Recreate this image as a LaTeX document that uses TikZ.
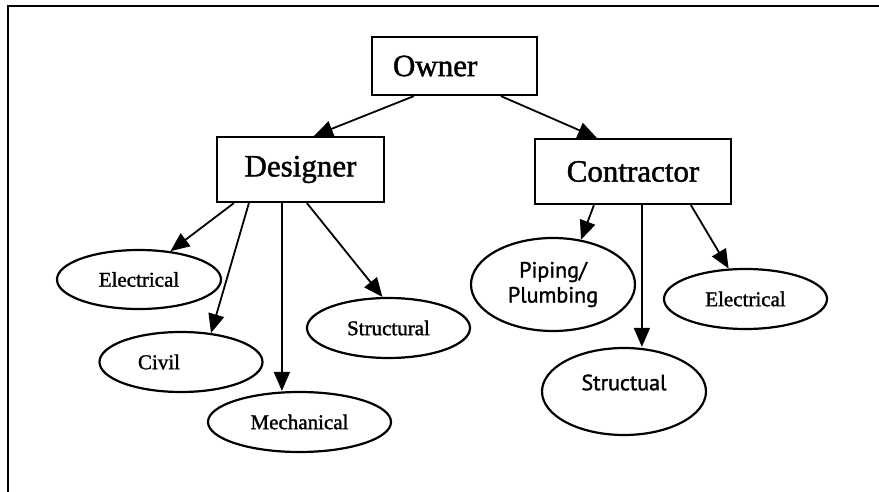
\documentclass[tikz,border=0pt]{standalone}
\usepackage{fontspec}
\setmainfont{Liberation Serif}
\newfontfamily\heavyserif{Liberation Serif}[FakeBold=1.4]
\newfontfamily\labelsans{PT Sans}[FakeBold=1.4]
\usetikzlibrary{arrows.meta,shapes.geometric,calc}

\begin{document}
\begin{tikzpicture}[x=1pt,y=-1pt,
  box/.style={draw, line width=2.2pt, rectangle, inner sep=0pt,
    font=\heavyserif\fontsize{31}{36}\selectfont},
  oval/.style={draw, line width=2.2pt, ellipse, inner sep=0pt,
    font=\heavyserif\fontsize{21}{25}\selectfont},
  sanslabel/.style={font=\labelsans\fontsize{22}{25}\selectfont},
  link/.style={line width=1.8pt, -{Triangle[length=19pt,width=16pt]}},
  frame/.style={line width=2.6pt}]
\useasboundingbox (0,0) rectangle (879,492);

% outer frame (top and left edges)
\draw[frame] (8,492) -- (8,6) -- (879,6);

% organisation boxes
\node[box, text width=123pt, align=left, inner xsep=21pt, minimum height=58pt]
  (owner) at (454.5,66) {Owner};
\node[box, minimum width=167pt, minimum height=65pt] (designer) at (300.5,169.5) {Designer};
\node[box, minimum width=196pt, minimum height=65pt] (contractor) at (633,171.5) {Contractor};

% designer disciplines
\node[oval, minimum width=164pt, minimum height=59pt] (elecD) at (139,279.5) {Electrical};
\node[oval, minimum width=163pt, minimum height=60pt] (civil) at (181,362) {};
\node[font=\heavyserif\fontsize{21}{25}\selectfont, inner sep=0pt] (civiltext)
  at ([xshift=-22pt]civil.center) {Civil};
\node[oval, minimum width=183pt, minimum height=60pt] (mech) at (299.5,422) {Mechanical};
\node[oval, minimum width=163pt, minimum height=60pt] (structD) at (388.5,328) {Structural};

% contractor trades
\node[oval, sanslabel, align=center, minimum width=164pt, minimum height=93pt]
  (piping) at (553,284.5) {Piping/\\Plumbing};
\node[oval, minimum width=164pt, minimum height=87pt] (structC) at (624,391.5) {};
\node[sanslabel, inner sep=0pt] (structCtext) at ([yshift=9pt]structC.center) {Structual};
\node[oval, minimum width=163pt, minimum height=60pt] (elecC) at (745.5,299) {Electrical};

% connectors
\draw[link] ($(owner.south west)+(43,0)$) -- ($(designer.north west)+(98,0)$);
\draw[link] ($(owner.south west)+(130,0)$) -- ($(contractor.north west)+(63,0)$);

\draw[link] ($(designer.south west)+(18,0)$) -- (elecD.42);
\draw[link] ($(designer.south west)+(33,0)$) -- (civil.44);
\draw[link] ($(designer.south west)+(66,0)$) coordinate (dm) -- (dm |- mech.north);
\draw[link] ($(designer.south west)+(91,0)$) -- (structD.101);

\draw[link] ($(contractor.south west)+(60,0)$) -- (piping.58);
\draw[link] ($(contractor.south west)+(108,0)$) coordinate (cs) -- (cs |- structC.north);
\draw[link] ($(contractor.south west)+(157,0)$) -- (elecC.119);
\end{tikzpicture}
\end{document}
